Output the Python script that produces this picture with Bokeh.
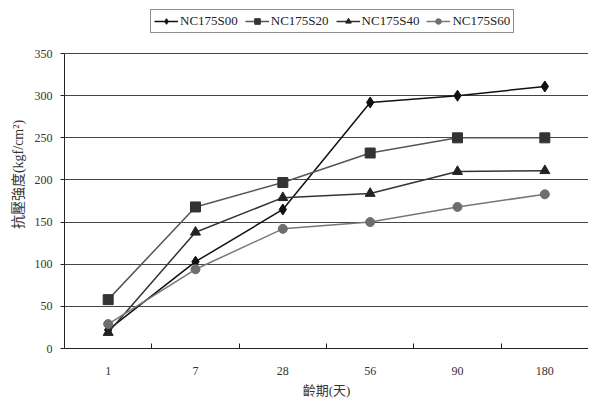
from bokeh.plotting import figure
from bokeh.models import Legend, LegendItem, FixedTicker, Range1d
from bokeh.embed import file_html
from bokeh.resources import INLINE

ages = ["1", "7", "28", "56", "90", "180"]
s00 = [22, 103, 165, 292, 300, 311]
s20 = [58, 168, 197, 232, 250, 250]
s40 = [19, 138, 179, 184, 210, 211]
s60 = [29, 94, 142, 150, 168, 183]
y_ticks = [0, 50, 100, 150, 200, 250, 300, 350]

xs = [i + 0.5 for i in range(len(ages))]

SERIF = "Liberation Serif"
MIXED = "'Liberation Serif', 'Noto Sans CJK TC'"
# y range extends above 350 to leave room for the legend inside the frame
p = figure(width=588, height=400, x_range=Range1d(0, len(ages)), y_range=Range1d(0, 413),
           output_backend="svg", toolbar_location=None,
           min_border_left=64, min_border_right=0, min_border_top=0, min_border_bottom=0)
p.outline_line_color = None
p.background_fill_color = "white"

# axes
p.xaxis.ticker = FixedTicker(ticks=xs, minor_ticks=[i for i in range(1, len(ages))])
p.xaxis.major_label_overrides = {x: a for x, a in zip(xs, ages)}
p.xaxis.major_tick_line_color = None
p.xaxis.minor_tick_in = 5
p.xaxis.minor_tick_out = 0
p.xaxis.minor_tick_line_color = "#222222"
p.xaxis.axis_line_color = "#222222"
p.xaxis.axis_label = "齡期(天)"
p.xaxis.major_label_standoff = 12
p.xaxis.axis_label_standoff = 5

p.yaxis.ticker = FixedTicker(ticks=y_ticks)
p.yaxis.bounds = (0, 350)
p.yaxis.minor_tick_line_color = None
p.yaxis.major_tick_in = 0
p.yaxis.major_tick_out = 4
p.yaxis.major_tick_line_color = "#222222"
p.yaxis.axis_line_color = "#222222"
p.yaxis.axis_label = "抗壓強度(kgf/cm²)"
p.yaxis.major_label_standoff = 8
p.yaxis.axis_label_standoff = 6

for ax in (p.xaxis[0], p.yaxis[0]):
    ax.major_label_text_font = SERIF
    ax.major_label_text_font_size = "12px"
    ax.major_label_text_color = "#333333"
    ax.axis_label_text_font = MIXED
    ax.axis_label_text_font_size = "14px"
    ax.axis_label_text_font_style = "normal"
    ax.axis_label_text_color = "#333333"
p.xaxis.axis_label_text_font_size = "13px"

p.xgrid.grid_line_color = None
p.ygrid.ticker = FixedTicker(ticks=y_ticks)
p.ygrid.grid_line_color = "#444444"
p.ygrid.grid_line_width = 1

# series
r00l = p.line(xs, s00, line_color="#111111", line_width=1.5)
r00m = p.scatter(xs, s00, marker="diamond", size=11, fill_color="#111111", line_color="#111111")
r20l = p.line(xs, s20, line_color="#555555", line_width=1.5)
r20m = p.scatter(xs, s20, marker="square", size=10, fill_color="#333333", line_color="#333333")
r40l = p.line(xs, s40, line_color="#333333", line_width=1.5)
r40m = p.scatter(xs, s40, marker="triangle", size=10, fill_color="#222222", line_color="#222222")
r60l = p.line(xs, s60, line_color="#777777", line_width=1.5)
r60m = p.scatter(xs, s60, marker="circle", size=9, fill_color="#6e6e6e", line_color="#6e6e6e")

legend = Legend(items=[
    LegendItem(label="NC175S00", renderers=[r00l, r00m]),
    LegendItem(label="NC175S20", renderers=[r20l, r20m]),
    LegendItem(label="NC175S40", renderers=[r40l, r40m]),
    LegendItem(label="NC175S60", renderers=[r60l, r60m]),
], orientation="horizontal", location=(86, 315))
legend.label_text_font = SERIF
legend.label_text_font_size = "13px"
legend.label_text_color = "#222222"
legend.label_standoff = 2
legend.glyph_width = 24
legend.glyph_height = 14
legend.spacing = 7
legend.padding = 3
legend.margin = 0
legend.border_line_color = "#222222"
legend.border_line_width = 1
legend.label_height = 14
legend.background_fill_alpha = 1
p.add_layout(legend, "center")

open("out.html", "w").write(file_html(p, INLINE))
